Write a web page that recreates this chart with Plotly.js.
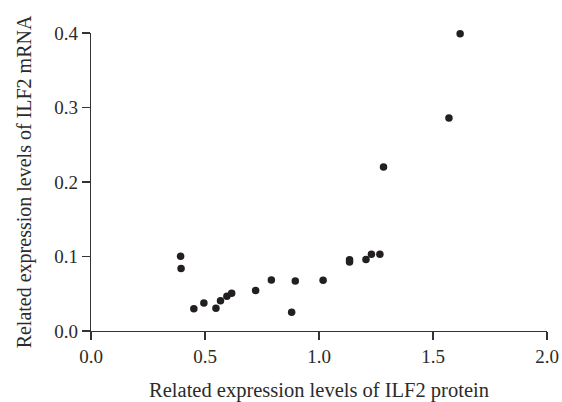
<!DOCTYPE html>
<html>
<head>
<meta charset="utf-8">
<script src="https://cdn.plot.ly/plotly-3.0.1.min.js"></script>
<style>html,body{margin:0;padding:0;background:#fff;}#chart{width:562px;height:402px;}</style>
</head>
<body>
<div id="chart"></div>
<script>
const proteinLevels = [0.393, 0.395, 0.451, 0.495, 0.548, 0.568, 0.596, 0.617, 0.722, 0.791, 0.880, 0.896, 1.018, 1.134, 1.134, 1.206, 1.230, 1.267, 1.283, 1.570, 1.619];
const mrnaLevels    = [0.1004, 0.0838, 0.030, 0.0376, 0.0305, 0.0407, 0.0466, 0.0507, 0.0542, 0.0685, 0.0251, 0.0672, 0.0681, 0.0955, 0.0925, 0.0959, 0.103, 0.103, 0.220, 0.286, 0.399];
const xTicks = [0, 0.5, 1.0, 1.5, 2.0];
const xTickText = ["0.0", "0.5", "1.0", "1.5", "2.0"];
const yTicks = [0, 0.1, 0.2, 0.3, 0.4];
const yTickText = ["0.0", "0.1", "0.2", "0.3", "0.4"];
const xTitle = "Related expression levels of ILF2 protein";
const yTitle = "Related expression levels of ILF2 mRNA";

const fontFam = "Liberation Serif, Times New Roman, serif";
const ink = "#231f20";
const txt = "#2b2b2b";

Plotly.newPlot("chart", [{
  type: "scatter",
  mode: "markers",
  x: proteinLevels,
  y: mrnaLevels,
  marker: {color: ink, size: 7.5, line: {width: 0}},
  cliponaxis: false,
  hoverinfo: "x+y"
}], {
  width: 562, height: 402,
  margin: {l: 91, r: 15, t: 33, b: 71},
  paper_bgcolor: "#fff", plot_bgcolor: "#fff",
  showlegend: false,
  font: {family: fontFam, color: txt, size: 19},
  xaxis: {
    range: [0, 2.0], tickvals: xTicks, ticktext: xTickText,
    showgrid: false, zeroline: false, showline: true, linecolor: "#333", linewidth: 1.3,
    ticks: "outside", ticklen: 8, tickwidth: 1.3, tickcolor: "#333",
    tickfont: {family: fontFam, size: 19, color: txt},
    title: {text: xTitle, font: {family: fontFam, size: 20.5, color: txt}, standoff: 17}
  },
  yaxis: {
    range: [0, 0.4], tickvals: yTicks, ticktext: yTickText,
    showgrid: false, zeroline: false, showline: true, linecolor: "#333", linewidth: 1.3,
    ticks: "outside", ticklen: 8, tickwidth: 1.3, tickcolor: "#333",
    tickfont: {family: fontFam, size: 19, color: txt},
    title: {text: yTitle, font: {family: fontFam, size: 20, color: txt}, standoff: 17}
  }
}, {displayModeBar: false, staticPlot: true});
</script>
</body>
</html>
